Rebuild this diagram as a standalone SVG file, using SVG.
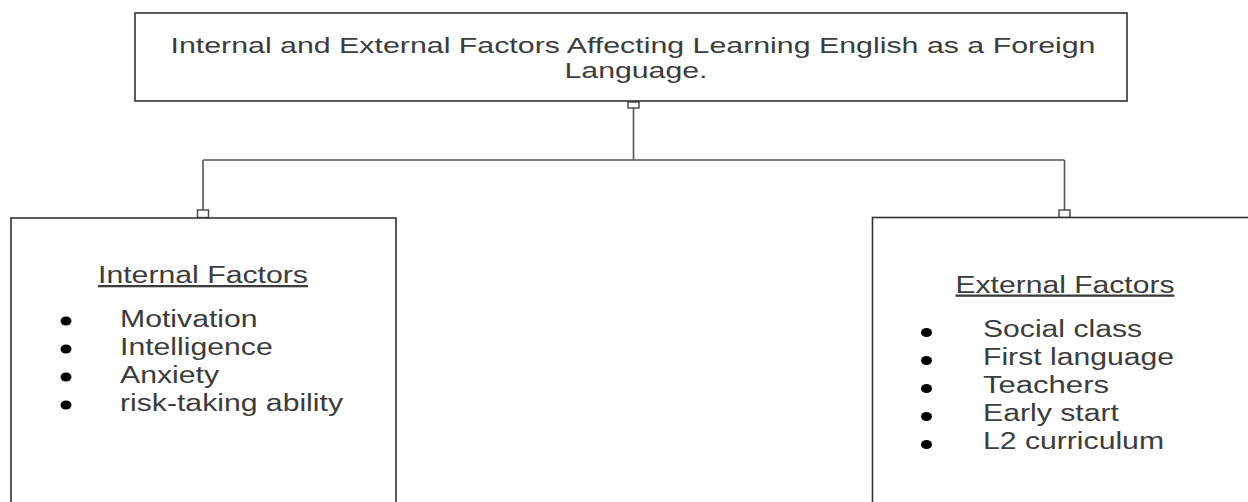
<svg xmlns="http://www.w3.org/2000/svg" width="1248" height="502" viewBox="0 0 1248 502">
  <style>
    .box { fill: #ffffff; stroke: #333333; stroke-width: 1.6; }
    .wire { fill: none; stroke: #555555; stroke-width: 1.6; }
    .port { fill: #ffffff; stroke: #444444; stroke-width: 1.4; }
    .txt { font-family: "Liberation Sans", Arial, sans-serif; font-size: 23px; fill: #3c3c3c; }
    .title { font-size: 22px; }
    .head { text-decoration: underline; }
    .dot { fill: #000000; }
  </style>

  <rect width="1248" height="502" fill="#ffffff"/>

  <!-- connectors: root to both branches -->
  <g id="connectors">
    <path class="wire" d="M633.5 108 V160 M203 160 H1064.5 M203 160 V210 M1064.5 160 V210"/>
    <rect class="port" x="628" y="102" width="11" height="6"/>
    <rect class="port" x="197.5" y="210" width="11" height="7.5"/>
    <rect class="port" x="1059" y="210" width="11" height="7.5"/>
  </g>

  <!-- root node -->
  <g id="root">
    <rect class="box" x="135" y="13" width="992" height="88"/>
    <text class="txt title" x="633" y="53" text-anchor="middle" textLength="925" lengthAdjust="spacingAndGlyphs">Internal and External Factors Affecting Learning English as a Foreign</text>
    <text class="txt title" x="636" y="78" text-anchor="middle" textLength="143" lengthAdjust="spacingAndGlyphs">Language.</text>
  </g>

  <!-- internal factors -->
  <g id="internal">
    <rect class="box" x="11" y="218" width="385" height="300"/>
    <text class="txt head" x="203" y="283" text-anchor="middle" textLength="210" lengthAdjust="spacingAndGlyphs">Internal Factors</text>
    <ellipse class="dot" cx="66" cy="321" rx="5.5" ry="4.5"/>
    <ellipse class="dot" cx="66" cy="349" rx="5.5" ry="4.5"/>
    <ellipse class="dot" cx="66" cy="377" rx="5.5" ry="4.5"/>
    <ellipse class="dot" cx="66" cy="405" rx="5.5" ry="4.5"/>
    <text class="txt" x="120" y="327" textLength="137.6" lengthAdjust="spacingAndGlyphs">Motivation</text>
    <text class="txt" x="120" y="355" textLength="152.7" lengthAdjust="spacingAndGlyphs">Intelligence</text>
    <text class="txt" x="120" y="383" textLength="99" lengthAdjust="spacingAndGlyphs">Anxiety</text>
    <text class="txt" x="120" y="411" textLength="223" lengthAdjust="spacingAndGlyphs">risk-taking ability</text>
  </g>

  <!-- external factors -->
  <g id="external">
    <rect class="box" x="872.5" y="217.5" width="400" height="300"/>
    <text class="txt head" x="1065" y="292.5" text-anchor="middle" textLength="219" lengthAdjust="spacingAndGlyphs">External Factors</text>
    <ellipse class="dot" cx="926.5" cy="332.5" rx="5.5" ry="4.5"/>
    <ellipse class="dot" cx="926.5" cy="360.5" rx="5.5" ry="4.5"/>
    <ellipse class="dot" cx="926.5" cy="388.5" rx="5.5" ry="4.5"/>
    <ellipse class="dot" cx="926.5" cy="416.5" rx="5.5" ry="4.5"/>
    <ellipse class="dot" cx="926.5" cy="444.5" rx="5.5" ry="4.5"/>
    <text class="txt" x="983" y="337" textLength="159" lengthAdjust="spacingAndGlyphs">Social class</text>
    <text class="txt" x="983" y="365" textLength="191" lengthAdjust="spacingAndGlyphs">First language</text>
    <text class="txt" x="983" y="393" textLength="126" lengthAdjust="spacingAndGlyphs">Teachers</text>
    <text class="txt" x="983" y="421" textLength="136" lengthAdjust="spacingAndGlyphs">Early start</text>
    <text class="txt" x="983" y="449" textLength="181" lengthAdjust="spacingAndGlyphs">L2 curriculum</text>
  </g>
</svg>
